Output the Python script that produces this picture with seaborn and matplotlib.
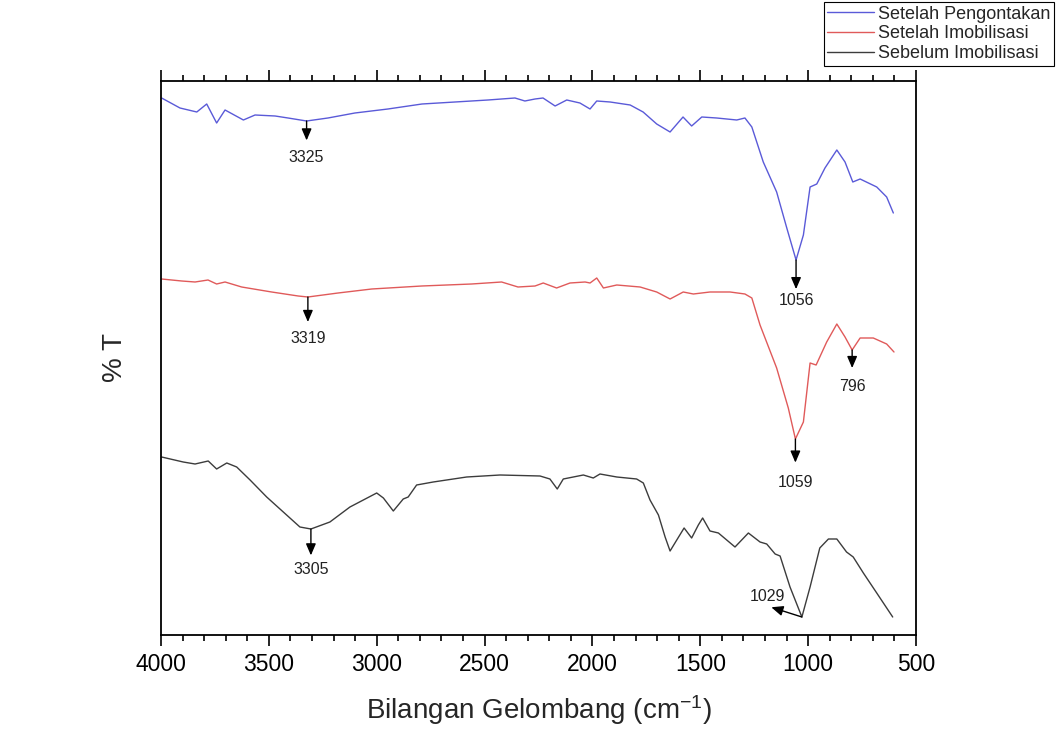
import numpy as np
import pandas as pd
import matplotlib
matplotlib.use('Agg')
import matplotlib.pyplot as plt
import seaborn as sns
from matplotlib.ticker import MultipleLocator

# Data FTIR (sumbu y dalam satuan relatif %T, sudah digeser per kurva)
wn_pengontakan = [3997, 3912, 3834, 3788, 3742, 3703, 3618, 3564, 3471, 3411,
                  3325, 3226, 3101, 2948, 2790, 2637, 2484, 2359, 2313, 2266,
                  2229, 2173, 2119, 2058, 2011, 1980, 1918, 1825, 1765, 1702,
                  1640, 1580, 1540, 1493, 1424, 1331, 1293, 1261, 1208, 1146,
                  1099, 1056, 1022, 991, 960, 922, 867, 829, 793, 759,
                  682, 636, 605]
t_pengontakan = [536, 526, 522, 530, 511, 524, 514, 519, 518, 516,
                 513, 516, 521, 525, 530, 532, 534, 536, 533, 535,
                 536, 528, 534, 531, 525, 533, 532, 529, 522, 510,
                 502, 517, 508, 517, 516, 514, 516, 507, 472, 442,
                 406, 374, 399, 447, 450, 466, 484, 472, 452, 455,
                 447, 437, 421]

wn_imobilisasi = [3997, 3904, 3842, 3782, 3742, 3703, 3626, 3487, 3364, 3319,
                  3179, 3023, 2791, 2560, 2421, 2345, 2266, 2228, 2166, 2104,
                  2034, 2011, 1980, 1949, 1887, 1779, 1702, 1640, 1579, 1532,
                  1455, 1362, 1293, 1261, 1223, 1146, 1092, 1059, 1022, 991,
                  963, 914, 867, 829, 796, 759, 698, 636, 602]
t_imobilisasi = [355, 353, 352, 354, 350, 352, 347, 342, 338, 337,
                 341, 345, 348, 350, 352, 347, 348, 351, 346, 351,
                 352, 351, 356, 346, 349, 347, 342, 335, 342, 340,
                 342, 342, 340, 336, 309, 266, 226, 195, 212, 271,
                 269, 292, 310, 297, 284, 296, 296, 290, 282]

wn_sebelum = [3997, 3897, 3842, 3781, 3742, 3695, 3649, 3587, 3510, 3433,
              3356, 3305, 3217, 3124, 3000, 2969, 2923, 2877, 2854, 2815,
              2738, 2583, 2428, 2243, 2197, 2163, 2135, 2042, 1996, 1965,
              1887, 1795, 1764, 1733, 1694, 1663, 1640, 1609, 1575, 1540,
              1509, 1489, 1455, 1416, 1339, 1277, 1223, 1192, 1153, 1130,
              1084, 1029, 991, 946, 906, 867, 822, 791, 744, 682,
              608]
t_sebelum = [177, 172, 170, 173, 165, 171, 167, 154, 137, 122,
             107, 105, 112, 127, 141, 136, 123, 135, 137, 149,
             152, 157, 159, 158, 155, 145, 155, 159, 156, 160,
             157, 155, 151, 134, 119, 97, 83, 94, 106, 96,
             109, 116, 103, 101, 87, 101, 92, 90, 80, 78,
             47, 17, 47, 86, 95, 95, 82, 77, 61, 41,
             17]

nama_sampel = ['Setelah Pengontakan', 'Setelah Imobilisasi', 'Sebelum Imobilisasi']
warna = ['#5a5ad8', '#e05a5a', '#3c3c3c']

# Puncak yang diberi label (sampel, bilangan gelombang)
puncak_sampel = ['Setelah Pengontakan', 'Setelah Pengontakan', 'Setelah Imobilisasi',
                 'Setelah Imobilisasi', 'Setelah Imobilisasi', 'Sebelum Imobilisasi',
                 'Sebelum Imobilisasi']
puncak_wn = [3325, 1056, 3319, 1059, 796, 3305, 1029]

# Posisi panah dan teks relatif terhadap puncak (points)
ujung_panah = [(0, -14), (0, -21), (0, -18), (0, -17), (0, -13), (0, -19), (-22, 7)]
posisi_teks = [(0, -26), (0, -29), (0, -30), (0, -31), (0, -26), (0, -29), (-25, 15)]

# Gabungkan ke DataFrame format panjang
df = pd.concat([
    pd.DataFrame({'wn': wn_pengontakan, 'T': t_pengontakan, 'sampel': nama_sampel[0]}),
    pd.DataFrame({'wn': wn_imobilisasi, 'T': t_imobilisasi, 'sampel': nama_sampel[1]}),
    pd.DataFrame({'wn': wn_sebelum, 'T': t_sebelum, 'sampel': nama_sampel[2]}),
], ignore_index=True)

sns.set_style('white')
plt.rcParams['font.family'] = ['Liberation Sans', 'DejaVu Sans']
plt.rcParams['mathtext.fontset'] = 'custom'
plt.rcParams['mathtext.rm'] = 'Liberation Sans'
plt.rcParams['mathtext.it'] = 'Liberation Sans'
plt.rcParams['mathtext.default'] = 'regular'

fig = plt.figure(figsize=(10.57, 7.33), dpi=100)
ax = fig.add_axes([0.1523, 0.1337, 0.7143, 0.7558])

sns.lineplot(data=df, x='wn', y='T', hue='sampel', hue_order=nama_sampel,
             palette=warna, sort=False, estimator=None, linewidth=1.0, ax=ax)

ax.set_xlim(4000, 500)
ax.set_ylim(-1, 553)
ax.set_yticks([])
ax.xaxis.set_major_locator(MultipleLocator(500))
ax.xaxis.set_minor_locator(MultipleLocator(100))
ax.tick_params(axis='x', which='both', direction='out', top=True, bottom=True,
               labelsize=16.5, width=1.2, pad=5, colors='black')
ax.tick_params(axis='x', which='major', length=8)
ax.tick_params(axis='x', which='minor', length=4.5)
for s in ax.spines.values():
    s.set_visible(True)
    s.set_linewidth(1.3)
    s.set_color('black')

ax.set_xlabel('Bilangan Gelombang (cm$^{-1}$)', fontsize=20, labelpad=12)
ax.set_ylabel('% T', fontsize=20, labelpad=24)

# Label puncak dengan panah
data_sampel = {nama_sampel[0]: dict(zip(wn_pengontakan, t_pengontakan)),
               nama_sampel[1]: dict(zip(wn_imobilisasi, t_imobilisasi)),
               nama_sampel[2]: dict(zip(wn_sebelum, t_sebelum))}
for smp, w, ujung, teks in zip(puncak_sampel, puncak_wn, ujung_panah, posisi_teks):
    y = data_sampel[smp][w]
    ax.annotate('', xy=(w, y), xytext=ujung, textcoords='offset points',
                arrowprops=dict(arrowstyle='<|-,head_length=0.7,head_width=0.3',
                                color='black', lw=1.0, mutation_scale=10,
                                shrinkA=0, shrinkB=0))
    ax.annotate(str(w), xy=(w, y), xytext=teks, textcoords='offset points',
                ha='center', va='center', fontsize=11.5, color='#222222')

handles, labels = ax.get_legend_handles_labels()
leg = ax.legend(handles, labels, loc='upper right',
                bbox_to_anchor=(1054 / 1057, 731 / 733), bbox_transform=fig.transFigure,
                fontsize=13, frameon=True, fancybox=False, edgecolor='black',
                framealpha=1, borderpad=0.2, labelspacing=0.15, handlelength=2.6,
                handletextpad=0.2, borderaxespad=0)
leg.get_frame().set_linewidth(0.8)

fig.savefig('out.png', dpi=100)
